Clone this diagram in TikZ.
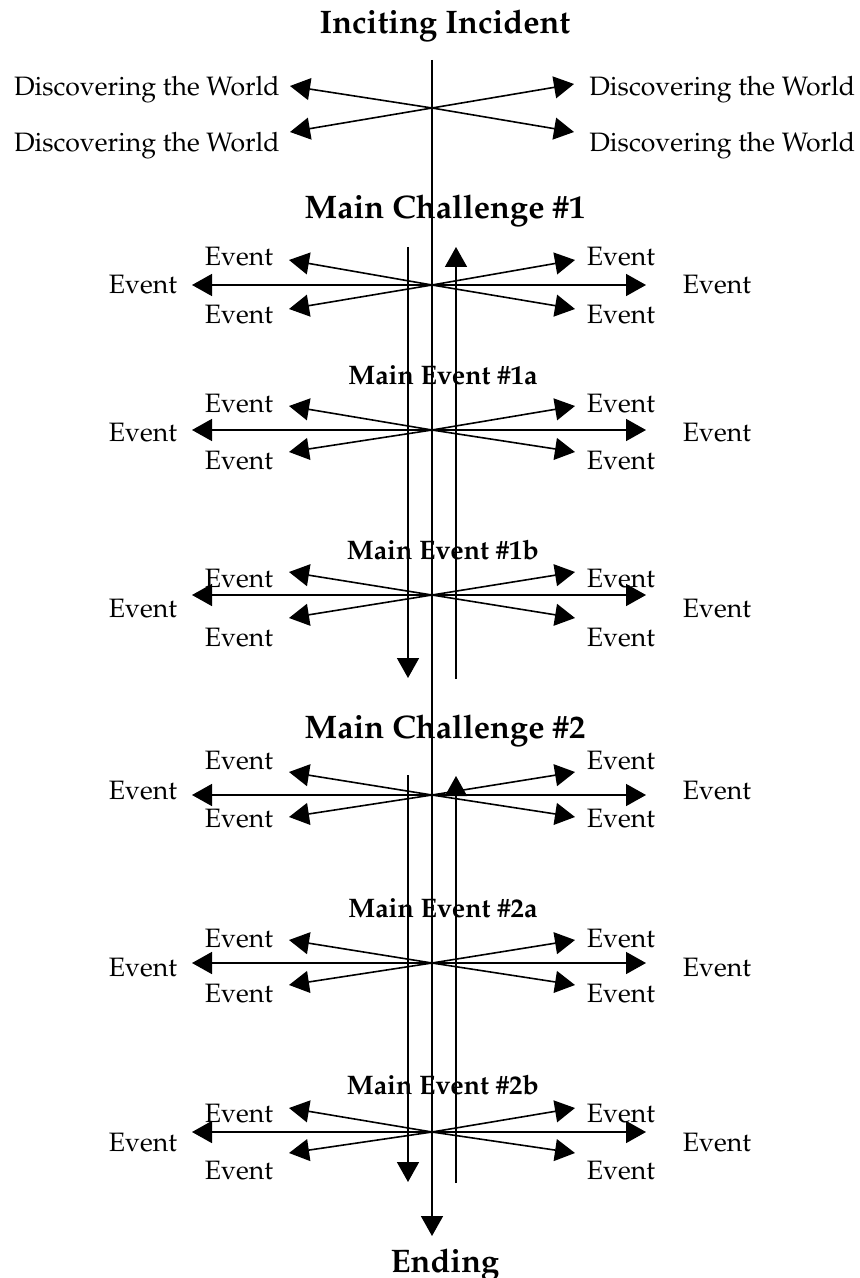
\documentclass[tikz,border=0pt]{standalone}
\usepackage[T1]{fontenc}
\usepackage{mathpazo}
\usetikzlibrary{arrows.meta}
\tikzset{
  ln/.style={line width=0.8pt},
  arr/.style={ln, -{Triangle[length=10pt,width=11pt]}},
  lbl/.style={font=\fontsize{13.3}{16}\selectfont, inner sep=0pt},
  bigttl/.style={font=\fontsize{16.3}{19}\selectfont\bfseries, inner sep=0pt, anchor=base},
  midttl/.style={font=\fontsize{13.4}{16}\selectfont\bfseries, inner sep=0pt, anchor=base},
}
% #1 name, #2 centre y, #3 upper tip y, #4 lower tip y, #5 upper label y, #6 side label y, #7 lower label y
\newcommand\evgroup[7]{%
  \coordinate (#1c) at (432,#2);
  \coordinate (#1hl) at (192,#2);
  \coordinate (#1hr) at (646,#2);
  \coordinate (#1ul) at (289,#3);
  \coordinate (#1ur) at (575,#3);
  \coordinate (#1dl) at (289,#4);
  \coordinate (#1dr) at (575,#4);
  \draw[arr] (#1c) -- (#1hl);
  \draw[arr] (#1c) -- (#1hr);
  \draw[arr] (#1c) -- (#1ul);
  \draw[arr] (#1c) -- (#1ur);
  \draw[arr] (#1c) -- (#1dl);
  \draw[arr] (#1c) -- (#1dr);
  \node[lbl, anchor=base] (#1eul) at (239,#5+9) {Event};
  \node[lbl, anchor=base] (#1eur) at (621,#5+9) {Event};
  \node[lbl, anchor=base] (#1esl) at (143,#6+9) {Event};
  \node[lbl, anchor=base] (#1esr) at (717,#6+9) {Event};
  \node[lbl, anchor=base] (#1edl) at (239,#7+9) {Event};
  \node[lbl, anchor=base] (#1edr) at (621,#7+9) {Event};
}
\begin{document}
\begin{tikzpicture}[x=0.5pt,y=-0.5pt]
\useasboundingbox (0,0) rectangle (860,1278);
\fill[white] (0,0) rectangle (860,1278);

% titles
\node[bigttl] (inc) at (445,34) {Inciting Incident};
\node[bigttl] (mc1) at (445,219) {Main Challenge \#1};
\node[midttl] (me1a) at (443,384) {Main Event \#1a};
\node[midttl] (me1b) at (443,559) {Main Event \#1b};
\node[bigttl] (mc2) at (445,738) {Main Challenge \#2};
\node[midttl] (me2a) at (443,917) {Main Event \#2a};
\node[midttl] (me2b) at (443,1094) {Main Event \#2b};
\node[bigttl] (end) at (445,1272) {Ending};

% main line
\coordinate (top) at (432,60);
\coordinate (bot) at (432,1236);
\draw[arr] (top) -- (bot);

% discovering the world
\coordinate (dc) at (432,108);
\coordinate (dul) at (290,86);
\coordinate (dur) at (574,84);
\coordinate (ddl) at (290,132);
\coordinate (ddr) at (574,132);
\draw[arr] (dc) -- (dul);
\draw[arr] (dc) -- (dur);
\draw[arr] (dc) -- (ddl);
\draw[arr] (dc) -- (ddr);
\node[lbl, anchor=base east] (dwul) at (280,96) {Discovering the World};
\node[lbl, anchor=base east] (dwdl) at (280,152) {Discovering the World};
\node[lbl, anchor=base west] (dwur) at (589,96) {Discovering the World};
\node[lbl, anchor=base west] (dwdr) at (589,152) {Discovering the World};

% event groups
\evgroup{ga}{285}{260}{309}{257}{285}{315}
\evgroup{gb}{430}{406}{452}{403}{432}{460}
\evgroup{gc}{595}{572}{618}{578}{608}{637}
\evgroup{gd}{795}{772}{817}{760}{790}{818}
\evgroup{ge}{963}{940}{985}{938}{967}{993}
\evgroup{gf}{1132}{1108}{1153}{1113}{1142}{1170}

% side vertical arrows
\coordinate (p1lt) at (408,247);
\coordinate (p1lb) at (408,678);
\coordinate (p1rt) at (456,247);
\coordinate (p1rb) at (456,679);
\draw[arr] (p1lt) -- (p1lb);
\draw[arr] (p1rb) -- (p1rt);
\coordinate (p2lt) at (408,775);
\coordinate (p2lb) at (408,1182);
\coordinate (p2rt) at (456,776);
\coordinate (p2rb) at (456,1183);
\draw[arr] (p2lt) -- (p2lb);
\draw[arr] (p2rb) -- (p2rt);
\end{tikzpicture}
\end{document}
